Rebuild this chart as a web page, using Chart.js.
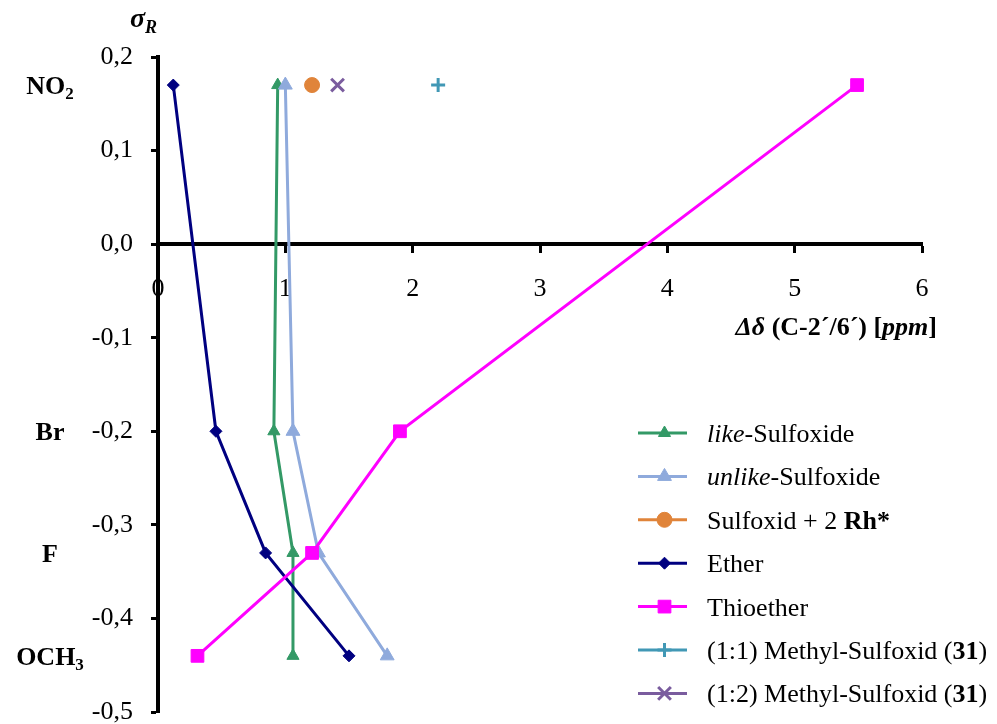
<!DOCTYPE html>
<html>
<head>
<meta charset="utf-8">
<title>sigma R gegen delta</title>
<script src="https://cdn.jsdelivr.net/npm/chart.js"></script>
<style>
  html, body { margin: 0; padding: 0; background: #fff; }
  #wrap { width: 997px; height: 724px; position: relative; }
</style>
</head>
<body>
<div id="wrap"><canvas id="grafica"></canvas></div>
<script>
// Substituenten und ihre sigma_R Werte (y)
const substituenten = ["NO2", "Br", "F", "OCH3"];
const sigmaR = [0.17, -0.2, -0.33, -0.44];

// Delta-delta (C-2'/6') in ppm (x), je Substituent
const likeSulfoxid = [0.94, 0.91, 1.06, 1.06];
const unlikeSulfoxid = [1.0, 1.06, 1.26, 1.80];
const etherWerte = [0.12, 0.455, 0.845, 1.50];
const thioetherWerte = [5.49, 1.90, 1.21, 0.31];
const rhSulfoxid = [1.21];   // nur NO2
const methyl11 = [2.20];     // nur NO2
const methyl12 = [1.41];     // nur NO2

const xTicks = [0, 1, 2, 3, 4, 5, 6];
const yTicks = [0.2, 0.1, 0.0, -0.1, -0.2, -0.3, -0.4, -0.5];

const SCHRIFT = '"Liberation Serif", "Times New Roman", serif';

function punkte(werte) {
    return werte.map((x, i) => ({ x: x, y: sigmaR[i] }));
}

// Legendentexte mit Kursiv/Fett-Teilen
const legendeTexte = [
    [{ t: "like", i: true }, { t: "-Sulfoxide" }],
    [{ t: "unlike", i: true }, { t: "-Sulfoxide" }],
    [{ t: "Sulfoxid + 2 " }, { t: "Rh*", b: true }],
    [{ t: "Ether" }],
    [{ t: "Thioether" }],
    [{ t: "(1:1) Methyl-Sulfoxid (" }, { t: "31", b: true }, { t: ")" }],
    [{ t: "(1:2) Methyl-Sulfoxid (" }, { t: "31", b: true }, { t: ")" }]
];

function serie(daten, farbe, stil, radius, extra) {
    return Object.assign({
        data: daten,
        showLine: true,
        borderColor: farbe,
        backgroundColor: farbe,
        borderWidth: 3,
        pointStyle: stil,
        pointRadius: radius,
        pointHoverRadius: radius,
        pointBackgroundColor: farbe,
        pointBorderColor: farbe,
        pointBorderWidth: 1
    }, extra || {});
}

const datasets = [
    serie(punkte(likeSulfoxid), "#339966", "triangle", 7),
    serie(punkte(unlikeSulfoxid), "#8FAADC", "triangle", 8),
    serie(punkte(rhSulfoxid), "#E0843A", "circle", 7.5),
    serie(punkte(etherWerte), "#000080", "rectRot", 6),
    serie(punkte(thioetherWerte), "#FF00FF", "rect", 9),
    serie(punkte(methyl11), "#4198B5", "cross", 7, { pointBorderWidth: 3 }),
    serie(punkte(methyl12), "#7A5C9E", "crossRot", 9, { pointBorderWidth: 3 })
];
// spaetere Serien oben zeichnen (wie Excel)
datasets.forEach((ds, i) => { ds.order = 20 - i; });

function zeichneSegmente(ctx, segs, x, y, groesse) {
    segs.forEach(s => {
        ctx.font = (s.i ? "italic " : "") + (s.b ? "bold " : "") + groesse + "px " + SCHRIFT;
        ctx.fillText(s.t, x, y);
        x += ctx.measureText(s.t).width;
    });
    return x;
}

function segBreite(ctx, segs, groesse) {
    let w = 0;
    segs.forEach(s => {
        ctx.font = (s.i ? "italic " : "") + (s.b ? "bold " : "") + groesse + "px " + SCHRIFT;
        w += ctx.measureText(s.t).width;
    });
    return w;
}

const beschriftungen = {
    id: "beschriftungen",
    afterDraw(chart) {
        const ctx = chart.ctx;
        const yScale = chart.scales.y;
        ctx.save();
        ctx.fillStyle = "#000";
        ctx.textBaseline = "alphabetic";

        // Substituenten links
        substituenten.forEach((name, i) => {
            const m = name.match(/^([A-Za-z]+?)(\d*)$/);
            const haupt = m[1];
            const index = m[2];
            const y = yScale.getPixelForValue(sigmaR[i]) + 9;
            ctx.font = "bold 26px " + SCHRIFT;
            const w1 = ctx.measureText(haupt).width;
            ctx.font = "bold 17px " + SCHRIFT;
            const w2 = index ? ctx.measureText(index).width : 0;
            let x = 50 - (w1 + w2) / 2;
            ctx.textAlign = "left";
            ctx.font = "bold 26px " + SCHRIFT;
            ctx.fillText(haupt, x, y);
            if (index) {
                ctx.font = "bold 17px " + SCHRIFT;
                ctx.fillText(index, x + w1, y + 5);
            }
        });

        // Achsentitel y: sigma_R
        ctx.textAlign = "left";
        ctx.font = "bold italic 28px " + SCHRIFT;
        ctx.fillText("σ", 130, 27);
        const ws = ctx.measureText("σ").width;
        ctx.font = "bold italic 18px " + SCHRIFT;
        ctx.fillText("R", 130 + ws, 33);

        // Achsentitel x
        const xTitel = [
            { t: "Δδ", i: true, b: true },
            { t: " (C-2´/6´) [", b: true },
            { t: "ppm", i: true, b: true },
            { t: "]", b: true }
        ];
        const bw = segBreite(ctx, xTitel, 26);
        zeichneSegmente(ctx, xTitel, chart.chartArea.right + 15 - bw, 335, 26);

        // Legende
        const lx = 638, lBreite = 49, ty0 = 433, dy = 43.4;
        datasets.forEach((ds, i) => {
            const y = ty0 + i * dy;
            ctx.strokeStyle = ds.borderColor;
            ctx.lineWidth = 3;
            ctx.beginPath();
            ctx.moveTo(lx, y);
            ctx.lineTo(lx + lBreite, y);
            ctx.stroke();
            ctx.fillStyle = ds.pointBackgroundColor;
            ctx.strokeStyle = ds.pointBorderColor;
            ctx.lineWidth = ds.pointBorderWidth;
            Chart.helpers.drawPoint(ctx, {
                pointStyle: ds.pointStyle,
                radius: ds.pointRadius,
                rotation: 0,
                borderWidth: ds.pointBorderWidth
            }, lx + lBreite / 2 + 2, y);
            ctx.fillStyle = "#000";
            ctx.textAlign = "left";
            zeichneSegmente(ctx, legendeTexte[i], 707, y + 9, 26);
        });
        ctx.restore();
    }
};

function komma(v) {
    return v.toFixed(1).replace(".", ",");
}

new Chart(document.getElementById("grafica"), {
    type: "scatter",
    data: { datasets: datasets },
    options: {
        responsive: true,
        maintainAspectRatio: false,
        animation: false,
        layout: { padding: { left: 0, right: 75, top: 57, bottom: 10 } },
        plugins: {
            legend: { display: false },
            tooltip: { enabled: false }
        },
        scales: {
            x: {
                type: "linear",
                min: 0,
                max: 6,
                position: { y: 0 },
                afterBuildTicks: s => { s.ticks = xTicks.map(v => ({ value: v })); },
                afterFit: s => { s.paddingLeft = 0; s.paddingRight = 0; },
                grid: { drawOnChartArea: false, color: "#000", tickLength: 7, tickWidth: 3 },
                border: { display: true, color: "#000", width: 4 },
                ticks: {
                    padding: 22,
                    maxRotation: 0,
                    color: "#000",
                    font: { family: SCHRIFT, size: 26 },
                    callback: v => String(v)
                }
            },
            y: {
                type: "linear",
                min: -0.5,
                max: 0.2,
                position: "left",
                afterBuildTicks: s => { s.ticks = yTicks.map(v => ({ value: v })); },
                afterFit: s => { s.width = 158; s.paddingTop = 0; s.paddingBottom = 0; },
                grid: { drawOnChartArea: false, color: "#000", tickLength: 7, tickWidth: 3 },
                border: { display: true, color: "#000", width: 4 },
                ticks: {
                    padding: 18,
                    color: "#000",
                    font: { family: SCHRIFT, size: 26 },
                    callback: v => komma(v)
                }
            }
        }
    },
    plugins: [beschriftungen]
});
</script>
</body>
</html>
